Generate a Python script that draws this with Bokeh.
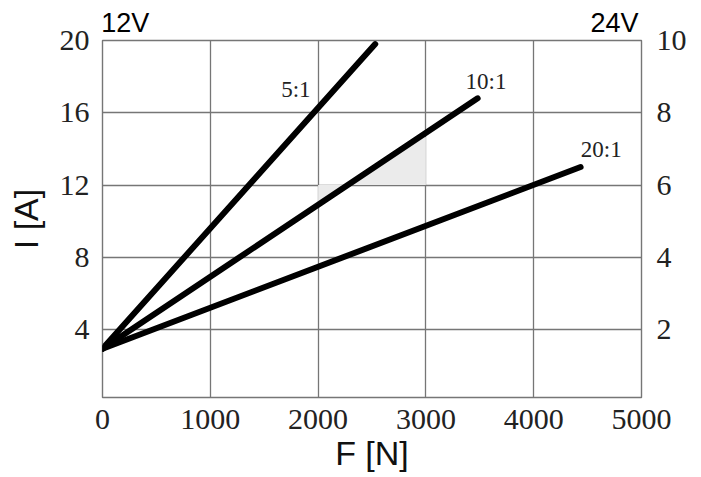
from bokeh.plotting import figure
from bokeh.models import Range1d, LinearAxis, FixedTicker, ColumnDataSource
from bokeh.core.properties import value
from bokeh.embed import file_html
from bokeh.resources import INLINE

# ---- data ----
force_5 = [0, 2530]
current_5 = [2.95, 19.8]
force_10 = [0, 3480]
current_10 = [2.95, 16.8]
force_20 = [0, 4435]
current_20 = [2.95, 13.0]

ratio_labels = ["5:1", "10:1", "20:1"]
ratio_x = [1794, 3558, 4626]
ratio_y = [17.3, 17.75, 13.95]

shade_x = [2000, 2268, 3000]
shade_low = [12, 12, 12]
shade_high = [10.95, 12, 14.67]

x_ticks = [0, 1000, 2000, 3000, 4000, 5000]
y_ticks_12v = [4, 8, 12, 16, 20]
y_ticks_24v = [2, 4, 6, 8, 10]

voltage_labels = ["12V", "24V"]
voltage_pos = [211, 4750]

GRID = "#767676"
TICK_FONT = "Liberation Serif"
SANS = "Liberation Sans"

p = figure(width=701, height=477, x_range=Range1d(0, 5000), y_range=Range1d(0.25, 20),
           output_backend="svg", toolbar_location=None,
           min_border_left=102, min_border_right=60, min_border_top=40, min_border_bottom=80,
           background_fill_color="white", border_fill_color="white")
p.outline_line_color = GRID
p.outline_line_width = 1.4

bottom_axis = p.below[0]
left_axis = p.left[0]

p.extra_y_ranges = {"v24": Range1d(0.125, 10)}
right_axis = LinearAxis(y_range_name="v24", ticker=FixedTicker(ticks=y_ticks_24v))
p.add_layout(right_axis, "right")

top_axis = LinearAxis(ticker=FixedTicker(ticks=voltage_pos),
                      major_label_overrides={k: t for k, t in zip(voltage_pos, voltage_labels)})
p.add_layout(top_axis, "above")

bottom_axis.ticker = FixedTicker(ticks=x_ticks)
left_axis.ticker = FixedTicker(ticks=y_ticks_12v)
p.xgrid.ticker = FixedTicker(ticks=x_ticks)
p.ygrid.ticker = FixedTicker(ticks=y_ticks_12v)
for g in (p.xgrid, p.ygrid):
    g.grid_line_color = GRID
    g.grid_line_width = 1.3

for ax in (bottom_axis, left_axis, right_axis, top_axis):
    ax.axis_line_color = None
    ax.major_tick_line_color = None
    ax.minor_tick_line_color = None
    ax.major_tick_out = 0
    ax.major_tick_in = 0
    ax.major_label_text_font = TICK_FONT
    ax.major_label_text_font_size = "30px"
    ax.major_label_text_color = "#222222"
    ax.axis_label_text_font = SANS
    ax.axis_label_text_font_size = "34px"
    ax.axis_label_text_font_style = "normal"
    ax.axis_label_text_color = "#111111"

top_axis.major_label_text_font = SANS
top_axis.major_label_text_font_size = "27px"
top_axis.major_label_text_color = "black"
top_axis.major_label_standoff = 3

bottom_axis.axis_label = "F [N]"
bottom_axis.major_label_standoff = 12
bottom_axis.axis_label_standoff = 2
left_axis.axis_label = "I [A]"
left_axis.major_label_standoff = 13
left_axis.axis_label_standoff = 12
right_axis.major_label_standoff = 15

# shaded operating area
p.varea(x=shade_x, y1=shade_low, y2=shade_high, fill_color="#ebebeb", fill_alpha=1.0)

# characteristic lines
for fx, cy in ((force_5, current_5), (force_10, current_10), (force_20, current_20)):
    p.line(fx, cy, line_color="black", line_width=6, line_cap="round")

src = ColumnDataSource(dict(x=ratio_x, y=ratio_y, t=ratio_labels))
p.text(x="x", y="y", text="t", source=src, text_align="center", text_baseline="alphabetic",
       text_font=value(TICK_FONT), text_font_size=value("23px"), text_color="#222222")

open("out.html", "w").write(file_html(p, INLINE))
